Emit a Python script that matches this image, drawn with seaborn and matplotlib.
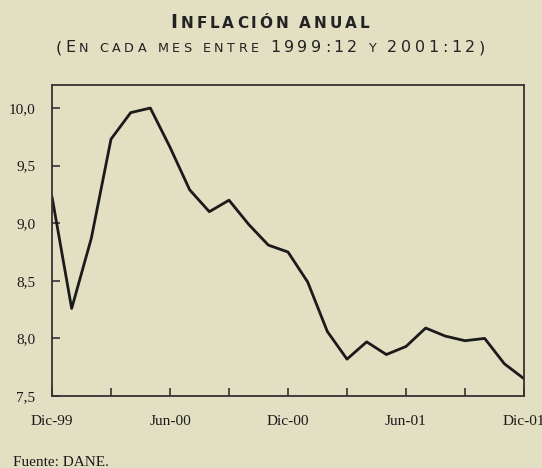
import matplotlib
matplotlib.use("Agg")
import matplotlib.pyplot as plt
import seaborn as sns
import pandas as pd

# ---- data ----
months = list(range(25))
inflation = [9.23, 8.26, 8.87, 9.73, 9.96, 10.00, 9.66, 9.29, 9.10, 9.20, 8.99, 8.81,
             8.75, 8.49, 8.06, 7.82, 7.97, 7.86, 7.93, 8.09, 8.02, 7.98, 8.00, 7.78, 7.65]
x_tick_pos = [0, 3, 6, 9, 12, 15, 18, 21, 24]
x_tick_labels = ["Dic-99", "", "Jun-00", "", "Dic-00", "", "Jun-01", "", "Dic-01"]
y_ticks = [7.5, 8.0, 8.5, 9.0, 9.5, 10.0]
y_tick_labels = ["7,5", "8,0", "8,5", "9,0", "9,5", "10,0"]
title = "Inflación anual"
subtitle = "(En cada mes entre 1999:12 y 2001:12)"
source = "Fuente: DANE."

BG = "#E2DFC3"
sns.set_style("ticks")
plt.rcParams["font.family"] = ["Liberation Serif", "DejaVu Serif"]

df = pd.DataFrame({"mes": months, "inflacion": inflation})

fig = plt.figure(figsize=(5.42, 4.68), dpi=100, facecolor=BG)
ax = fig.add_axes([52 / 542, 1 - 396 / 468, (524 - 52) / 542, (396 - 85) / 468])
ax.set_facecolor(BG)

sns.lineplot(data=df, x="mes", y="inflacion", ax=ax, color="#1a1a1a", linewidth=2.0)

ax.set_xlim(0, 24)
ax.set_ylim(7.5, 10.2)
ax.set_xticks(x_tick_pos)
ax.set_xticklabels(x_tick_labels)
ax.set_yticks(y_ticks)
ax.set_yticklabels(y_tick_labels)
ax.set_xlabel("")
ax.set_ylabel("")
ax.tick_params(axis="x", direction="in", length=6, width=1.2, color="#333333",
               pad=14, labelsize=11, labelcolor="#1a1a1a")
ax.tick_params(axis="y", direction="in", length=6, width=1.2, color="#333333",
               pad=12, labelsize=11, labelcolor="#1a1a1a")
for s in ax.spines.values():
    s.set_visible(True)
    s.set_color("#333333")
    s.set_linewidth(1.3)


def small_caps(fig, text, y_px, cap_size, small_size, target_width, center_px,
               family="DejaVu Sans", weight="normal", space_px=5):
    """Draw text in small caps, spread to a target width, baseline at y (px from top)."""
    renderer = fig.canvas.get_renderer()
    pieces = []
    for ch in text:
        size = small_size if ch.islower() else cap_size
        t = fig.text(0, 0, ch.upper(), fontsize=size, family=family, weight=weight,
                     color="#222222", va="baseline", ha="left")
        pieces.append(t)
    widths = []
    for t in pieces:
        if t.get_text() == " ":
            widths.append(space_px)
        else:
            widths.append(t.get_window_extent(renderer=renderer).width)
    tracking = (target_width - sum(widths)) / (len(pieces) - 1)
    W = fig.get_figwidth() * fig.dpi
    H = fig.get_figheight() * fig.dpi
    x = center_px - target_width / 2
    for t, w in zip(pieces, widths):
        t.set_position((x / W, 1 - y_px / H))
        x += w + tracking


small_caps(fig, title, 28.5, 13.5, 11.0, 199, 270, weight="bold", space_px=5)
small_caps(fig, subtitle, 52.5, 11.5, 9.2, 429, 270, space_px=4)

fig.text(13 / 542, 1 - 462 / 468, source, fontsize=11, color="#1a1a1a",
         va="center", ha="left")

fig.savefig("out.png", dpi=100, facecolor=BG)
